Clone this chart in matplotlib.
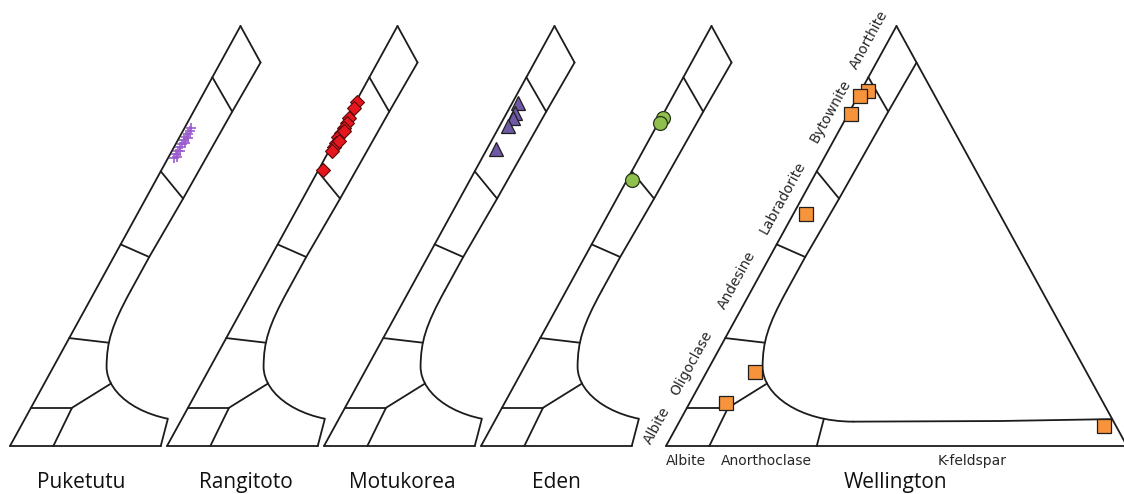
import numpy as np
import matplotlib.pyplot as plt
from matplotlib.path import Path
from matplotlib.patches import PathPatch, Polygon

# ---- feldspar analyses, mol % (An, Or) -----------------------------------
puketutu_an = [68.6, 69.5, 70.2, 71.2, 71.9, 72.9, 73.6, 74.3, 75.0, 75.7, 70.2, 72.1, 73.3, 68.8]
puketutu_or = [1.3, 1.3, 1.3, 1.3, 1.4, 1.3, 1.4, 1.5, 1.5, 1.4, 1.8, 1.9, 1.9, 1.8]

rangitoto_an = [82.0, 80.4, 78.0, 76.8, 75.6, 74.5, 73.6, 72.1, 71.2, 70.2, 72.6, 75.0, 65.7]
rangitoto_or = [0.3, 0.3, 0.5, 0.6, 0.5, 0.5, 0.4, 0.6, 0.6, 0.7, 1.0, 0.9, 0.9]

motukorea_an = [81.7, 79.3, 78.2, 76.3, 70.6]
motukorea_or = [1.3, 1.7, 2.0, 1.8, 2.0]

eden_an = [78.2, 76.9, 63.3]
eden_or = [0.4, 0.3, 1.2]

wellington_an = [84.6, 83.3, 79.0, 55.2, 17.6, 10.2, 4.8]
wellington_or = [1.6, 0.4, 0.6, 2.8, 10.5, 7.9, 92.6]

sites = ['Puketutu', 'Rangitoto', 'Motukorea', 'Eden', 'Wellington']
site_an = [puketutu_an, rangitoto_an, motukorea_an, eden_an, wellington_an]
site_or = [puketutu_or, rangitoto_or, motukorea_or, eden_or, wellington_or]

# ---- field boundaries of the feldspar triangle, (An, Or) in mol % ---------
plag_dividers = [[(87.8, 0), (79.6, 8.4)],
                 [(65.4, 0), (58.9, 8.1)],
                 [(48.0, 0), (45.0, 7.7)],
                 [(25.7, 0), (24.6, 9.1)],
                 [(9.1, 0), (9.1, 8.9)]]
strip_line = [(91.3, 8.7), (79.6, 8.4), (58.9, 8.1), (45.0, 7.7), (37.0, 7.7)]
# solvus curve: two cubic Bezier pieces then a straight run to the An-Or join
solvus_ctrl = [(37.0, 7.7), (28.7, 7.7), (24.8, 8.6), (18.9, 11.5),
               (12.1, 14.9), (5.8, 26.2), (5.8, 37.7)]
solvus_tail = [(5.95, 69.5), (6.4, 93.5)]
anorthoclase_line = [(0, 9.4), (9.1, 8.9), (14.9, 14.5)]
kfs_line = [(0, 32.7), (6.5, 31.0)]

plag_names = ['Albite', 'Oligoclase', 'Andesine', 'Labradorite', 'Bytownite', 'Anorthite']
plag_label_an = [2.8, 17.7, 37.5, 57.0, 77.8, 94.6]
base_names = ['Albite', 'Anorthoclase', 'K-feldspar']
base_label_or = [4.3, 21.7, 66.4]

# ---- layout (pixels) -----------------------------------------------------
W, H = 1124, 494
panel_x0 = [10, 167, 324, 481, 666]
title_u = [0.155, 0.171, 0.169, 0.163, 0.497]
side_px, height_px, base_px = 461, 420, 48
pad = 0.05

marker_style = [
    dict(marker='+', color='#9b5cd0', ms=7.5, mew=1.2, linestyle='none'),
    dict(marker='D', mfc='#e5161d', mec='#5a0a0a', ms=7.5, mew=0.8, linestyle='none'),
    dict(marker='^', mfc='#6f58a6', mec='#1e1e1e', ms=10, mew=0.9, linestyle='none'),
    dict(marker='o', mfc='#8fbf4c', mec='#26331a', ms=10, mew=0.9, linestyle='none'),
    dict(marker='s', mfc='#f7933b', mec='#1e1e1e', ms=10, mew=0.9, linestyle='none'),
]

LC = '#1c1c1c'
LW = 1.3
TXT = '#262626'


def tern(an, orth):
    an = np.asarray(an, dtype=float) / 100
    orth = np.asarray(orth, dtype=float) / 100
    return orth + an / 2, an


def seg(ax, pts, clip=None):
    an, orth = zip(*pts)
    x, y = tern(an, orth)
    ln, = ax.plot(x, y, color=LC, lw=LW, solid_capstyle='round',
                  solid_joinstyle='round')
    if clip is not None:
        ln.set_clip_path(clip)
    return ln


fig = plt.figure(figsize=(W / 100, H / 100), dpi=100)

for i, name in enumerate(sites):
    full = name == 'Wellington'
    left = panel_x0[i] - pad * side_px
    bottom = base_px - pad * height_px
    ax = fig.add_axes([left / W, bottom / H,
                       side_px * (1 + 2 * pad) / W, height_px * (1 + 2 * pad) / H])
    ax.set_xlim(-pad, 1 + pad)
    ax.set_ylim(-pad, 1 + pad)
    ax.set_axis_off()
    ax.patch.set_alpha(0)

    clip = None
    if not full:
        # keep only the part of the diagram left of the K-feldspar divider
        ku, kv = tern(*zip(*kfs_line))
        slope = (ku[1] - ku[0]) / (kv[1] - kv[0])
        clip = Polygon([(-0.2, -0.2), (ku[0] - 0.2 * slope, -0.2),
                        (ku[0] + 1.2 * slope, 1.2), (-0.2, 1.2)],
                       closed=True, transform=ax.transData, visible=False)
        ax.add_patch(clip)

    # triangle edges
    seg(ax, [(0, 0), (100, 0)])
    if full:
        seg(ax, [(100, 0), (0, 100)])
        seg(ax, [(0, 0), (0, 100)])
    else:
        seg(ax, [(100, 0), strip_line[0]])
        seg(ax, [(0, 0), kfs_line[0]])

    seg(ax, strip_line)
    for d in plag_dividers:
        seg(ax, d)
    seg(ax, anorthoclase_line)
    seg(ax, kfs_line)

    cu, cv = tern(*zip(*solvus_ctrl))
    codes = [Path.MOVETO] + [Path.CURVE4] * 6
    curve = PathPatch(Path(np.column_stack([cu, cv]), codes), fc='none',
                      ec=LC, lw=LW, capstyle='round', joinstyle='round')
    ax.add_patch(curve)
    if clip is not None:
        curve.set_clip_path(clip)
    seg(ax, [solvus_ctrl[-1]] + solvus_tail, clip=clip)

    # analyses
    mx, my = tern(site_an[i], site_or[i])
    ax.plot(mx, my, zorder=5, clip_on=False, **marker_style[i])

    ax.text(title_u[i], -0.1, name, ha='center', va='baseline',
            fontsize=15, family='Open Sans', color='#111111')

    if full:
        for lab, a in zip(plag_names, plag_label_an):
            ax.annotate(lab, xy=tern(a, 0), xytext=(-11.0, 6.1),
                        textcoords='offset points', rotation=61.1,
                        rotation_mode='anchor', ha='center', va='center',
                        fontsize=10, family='DejaVu Sans', color=TXT)
        for lab, o in zip(base_names, base_label_or):
            ax.annotate(lab, xy=tern(0, o), xytext=(0, -10.8),
                        textcoords='offset points', ha='center', va='center',
                        fontsize=10, family='DejaVu Sans', color=TXT)

fig.savefig('out.png', dpi=100, facecolor='white')
